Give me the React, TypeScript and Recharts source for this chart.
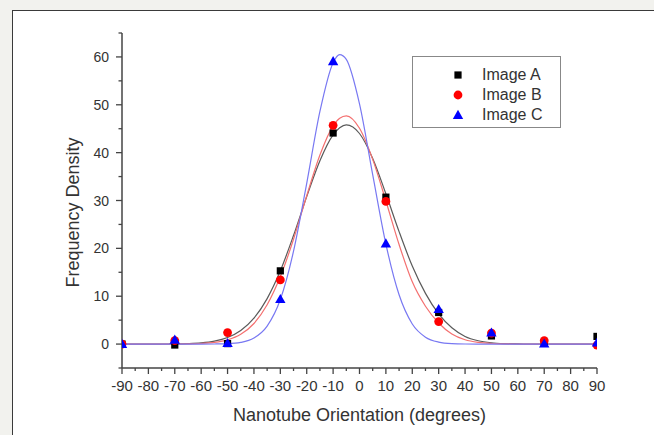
import { ComposedChart, Line, Scatter, XAxis, YAxis, Legend, Label } from "recharts";

// measured orientations (degrees) and densities per image
const sampleAngles = [-90, -70, -50, -30, -10, 10, 30, 50, 70, 90];
const imageA = [0, -0.2, 0.1, 15.3, 44.1, 30.7, 6.6, 1.7, 0.2, 1.6];
const imageB = [0, 0.7, 2.4, 13.4, 45.7, 29.8, 4.7, 2.3, 0.7, -0.2];
const imageC = [0, 0.9, 0.2, 9.4, 59.1, 21.0, 7.3, 2.4, 0.1, 0.3];

// fitted curves
const fitAngles = [
  -90, -85, -80, -75, -70, -65, -60, -55, -50, -45, -40, -35, -30, -25, -20, -15, -10, -7.5, -5,
  0, 5, 10, 15, 20, 25, 30, 35, 40, 45, 50, 55, 60, 65, 70, 75, 80, 85, 90,
];
const fitA = [
  0, 0, 0, 0.01, 0.03, 0.09, 0.24, 0.6, 1.36, 2.82, 5.4, 9.5, 15.3, 22.7, 30.8, 38.3, 43.7, 45.2, 45.8,
  44.0, 38.8, 31.4, 23.5, 16.3, 10.6, 6.3, 3.4, 1.6, 0.7, 0.28, 0.1, 0.03, 0.01, 0, 0, 0, 0, 0,
];
const fitB = [
  0, 0, 0, 0, 0.01, 0.04, 0.12, 0.34, 0.88, 2.04, 4.3, 8.2, 14.1, 21.9, 31.0, 39.5, 45.6, 47.2, 47.7,
  45.1, 38.6, 29.9, 20.8, 13.0, 7.9, 4.4, 2.1, 0.9, 0.35, 0.12, 0.04, 0.01, 0, 0, 0, 0, 0, 0,
];
const fitC = [
  0, 0, 0, 0, 0, 0, 0, 0.02, 0.08, 0.35, 1.26, 3.75, 9.3, 19.4, 33.6, 48.6, 58.8, 60.5, 59.5,
  50.2, 35.4, 20.9, 10.3, 4.2, 1.45, 0.42, 0.1, 0.02, 0, 0, 0, 0, 0, 0, 0, 0, 0, 0,
];

const xTicks = [
  -90, -85, -80, -75, -70, -65, -60, -55, -50, -45, -40, -35, -30, -25, -20, -15, -10, -5, 0,
  5, 10, 15, 20, 25, 30, 35, 40, 45, 50, 55, 60, 65, 70, 75, 80, 85, 90,
];
const yTicks = [-5, 0, 5, 10, 15, 20, 25, 30, 35, 40, 45, 50, 55, 60, 65];

const FONT = "'Liberation Sans', Arial, Helvetica, sans-serif";
const AXIS = "#444";
const TEXT = "#333";

const series = [
  { name: "Image A", color: "#000000", line: "#5a5a5a", marker: "square", points: imageA, fit: fitA },
  { name: "Image B", color: "#ff0000", line: "#f47070", marker: "circle", points: imageB, fit: fitB },
  { name: "Image C", color: "#0000ff", line: "#7878f2", marker: "triangle", points: imageC, fit: fitC },
];

function toPoints(xs: number[], ys: number[]) {
  return xs.map((x, i) => ({ x, y: ys[i] }));
}

function Marker({ kind, cx, cy, color }: { kind: string; cx: number; cy: number; color: string }) {
  if (kind === "square") {
    return <rect x={cx - 3.6} y={cy - 3.6} width={7.2} height={7.2} fill={color} />;
  }
  if (kind === "circle") {
    return <circle cx={cx} cy={cy} r={4.4} fill={color} />;
  }
  return (
    <polygon
      points={`${cx},${cy - 5.2} ${cx - 5.2},${cy + 3.9} ${cx + 5.2},${cy + 3.9}`}
      fill={color}
    />
  );
}

function XTick({ x, y, payload }: any) {
  const major = payload.value % 10 === 0;
  return (
    <g>
      <line x1={x} x2={x} y1={y} y2={y + (major ? 6 : 3)} stroke={AXIS} strokeWidth={1.3} />
      {major && (
        <text x={x} y={y + 12} dy="0.71em" textAnchor="middle" fontSize={15} fill={TEXT} fontFamily={FONT}>
          {payload.value}
        </text>
      )}
    </g>
  );
}

function YTick({ x, y, payload }: any) {
  const v = payload.value;
  const major = v % 10 === 0 && v >= 0 && v <= 60;
  return (
    <g>
      <line x1={x} x2={x - (major ? 6 : 3.5)} y1={y} y2={y} stroke={AXIS} strokeWidth={1.3} />
      {major && (
        <text x={x - 13} y={y} dy="0.36em" textAnchor="end" fontSize={14} fill={TEXT} fontFamily={FONT}>
          {v}
        </text>
      )}
    </g>
  );
}

function YTitle({ viewBox }: any) {
  const cx = viewBox.x + 73;
  const cy = viewBox.y + viewBox.height / 2 + 12;
  return (
    <text
      x={cx}
      y={cy}
      dy="0.36em"
      transform={`rotate(-90, ${cx}, ${cy})`}
      textAnchor="middle"
      fontSize={18}
      fill={TEXT}
      fontFamily={FONT}
    >
      Frequency Density
    </text>
  );
}

function LegendBox() {
  return (
    <div
      style={{
        boxSizing: "border-box",
        width: 149,
        height: 72,
        border: "1px solid #888",
        background: "#fff",
        paddingTop: 8,
        fontFamily: FONT,
        fontSize: 16,
        color: TEXT,
      }}
    >
      {series.map((s) => (
        <div key={s.name} style={{ display: "flex", alignItems: "center", height: 20 }}>
          <svg width={12} height={12} style={{ marginLeft: 39 }}>
            <Marker kind={s.marker} cx={6} cy={6} color={s.color} />
          </svg>
          <span style={{ marginLeft: 18 }}>{s.name}</span>
        </div>
      ))}
    </div>
  );
}

export default function App() {
  return (
    <div
      style={{
        position: "fixed",
        left: 0,
        top: 0,
        width: 654,
        height: 435,
        background: "#f2f2ee",
        overflow: "hidden",
      }}
    >
      <div
        style={{
          position: "absolute",
          left: 12,
          top: 10,
          width: 700,
          height: 500,
          border: "1px solid #3a3a3a",
          background: "#fff",
        }}
      />
      <div style={{ position: "absolute", left: 0, top: 0 }}>
        <ComposedChart width={654} height={435} margin={{ top: 33, right: 57, bottom: 0, left: 0 }}>
          <XAxis
            type="number"
            dataKey="x"
            domain={[-90, 90]}
            ticks={xTicks}
            interval={0}
            allowDataOverflow
            height={67}
            tickSize={0}
            tickMargin={0}
            tickLine={false}
            tick={<XTick />}
            axisLine={{ stroke: AXIS, strokeWidth: 1.5 }}
          >
            <Label
              value="Nanotube Orientation (degrees)"
              position="insideBottom"
              offset={14}
              fontSize={18}
              fill={TEXT}
              fontFamily={FONT}
            />
          </XAxis>
          <YAxis
            type="number"
            dataKey="y"
            domain={[-5, 65]}
            ticks={yTicks}
            interval={0}
            allowDataOverflow
            width={122}
            tickSize={0}
            tickMargin={0}
            tickLine={false}
            tick={<YTick />}
            axisLine={{ stroke: AXIS, strokeWidth: 1.5 }}
          >
            <Label content={<YTitle />} />
          </YAxis>
          {series.map((s) => (
            <Line
              key={`fit-${s.name}`}
              data={toPoints(fitAngles, s.fit)}
              dataKey="y"
              type="monotone"
              stroke={s.line}
              strokeWidth={1.2}
              dot={false}
              activeDot={false}
              isAnimationActive={false}
              legendType="none"
            />
          ))}
          {series.map((s) => (
            <Scatter
              key={`pts-${s.name}`}
              name={s.name}
              data={toPoints(sampleAngles, s.points)}
              dataKey="y"
              isAnimationActive={false}
              shape={(p: any) => <Marker kind={s.marker} cx={p.cx} cy={p.cy} color={s.color} />}
            />
          ))}
          <Legend
            layout="vertical"
            align="center"
            verticalAlign="middle"
            content={<LegendBox />}
            wrapperStyle={{ left: 412, top: 56, width: 149, height: 72 }}
          />
        </ComposedChart>
      </div>
    </div>
  );
}
